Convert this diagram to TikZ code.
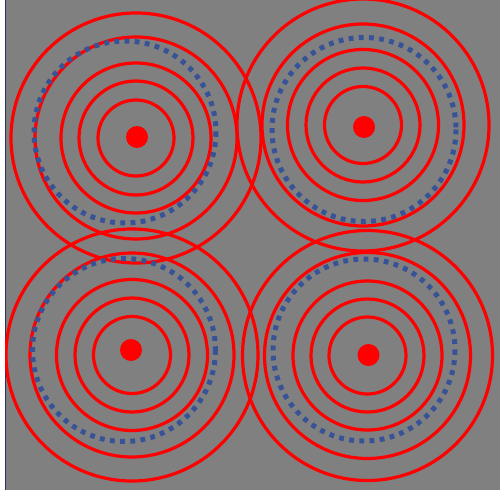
\documentclass[tikz,border=0pt]{standalone}
\definecolor{bggray}{RGB}{128,128,128}
\definecolor{ringred}{RGB}{255,0,0}
\definecolor{dotblue}{RGB}{55,82,150}
\definecolor{edgeblue}{RGB}{40,50,90}
\tikzset{
  ring/.style={draw=ringred, line width=3.2pt},
  dotring/.style={draw=dotblue, line width=5pt, dash pattern=on 4.8pt off 5.4pt},
  centerdot/.style={fill=ringred}
}
\begin{document}
\begin{tikzpicture}[x=1pt,y=-1pt]
\useasboundingbox (0,0) rectangle (500,492);
\fill[white] (0,0) rectangle (500,492);
\fill[bggray] (5,0) rectangle (500,490);
\draw[edgeblue, line width=1pt] (5,0) -- (5,490);
\begin{scope}
\clip (5,0) rectangle (500,490);
% top-left
\foreach \r in {38,57,75,101,125} \draw[ring] (136,138) circle (\r);
\draw[dotring] (125,132) circle (91);
\fill[centerdot] (137,137) circle (11);
% top-right
\foreach \r in {38.5,57,75.5,101,126} \draw[ring] (363,125) circle (\r);
\draw[dotring] (364,129.5) circle (92);
\fill[centerdot] (364,127) circle (11);
% bottom-left
\foreach \r in {38.5,57,75.5,102,126} \draw[ring] (132,355) circle (\r);
\draw[dotring] (124,350) circle (91.5);
\fill[centerdot] (131,350) circle (11);
% bottom-right
\foreach \r in {38.5,56.5,74.5,103,125} \draw[ring] (367.5,355.5) circle (\r);
\draw[dotring] (364,350) circle (91);
\fill[centerdot] (368.5,355) circle (11);
\end{scope}
\end{tikzpicture}
\end{document}
